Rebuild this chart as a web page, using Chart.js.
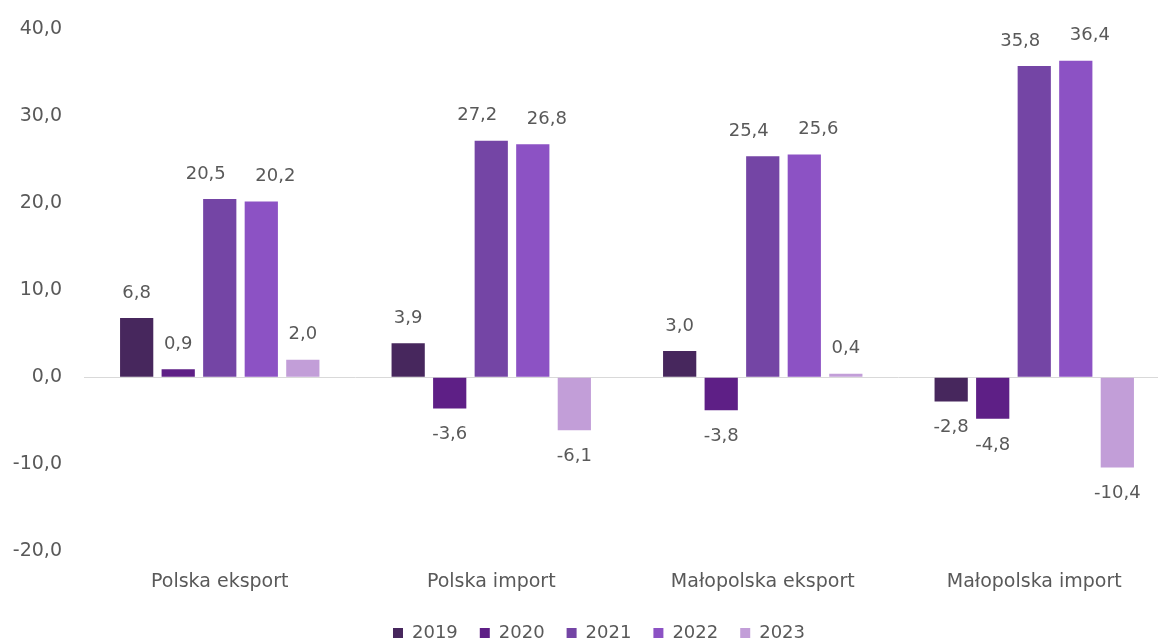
<!DOCTYPE html>
<html lang="pl">
<head>
<meta charset="UTF-8">
<title>Eksport i import</title>
<script src="https://cdn.jsdelivr.net/npm/chart.js"></script>
<style>
  html, body { margin: 0; padding: 0; background: #fff; overflow: hidden; }
  #wrap { position: absolute; left: 0; top: -4px; width: 1170px; height: 647px; }
</style>
</head>
<body>
<div id="wrap"><canvas id="myChart"></canvas></div>
<script>
// dane
const categories = ['Polska eksport', 'Polska import', 'Małopolska eksport', 'Małopolska import'];
const years = ['2019', '2020', '2021', '2022', '2023'];
const colors = ['#47275D', '#5E1F86', '#7445A5', '#8C52C4', '#C29ED8'];

const values2019 = [6.8, 3.9, 3.0, -2.8];
const values2020 = [0.9, -3.6, -3.8, -4.8];
const values2021 = [20.5, 27.2, 25.4, 35.8];
const values2022 = [20.2, 26.8, 25.6, 36.4];
const values2023 = [2.0, -6.1, 0.4, -10.4];

const series = [values2019, values2020, values2021, values2022, values2023];

const textColor = '#595959';
const fontFamily = '"DejaVu Sans", sans-serif';
const fontSize = 18;
const axisFontSize = 19;

// etykiety 2021 i 2022 są rozsunięte, żeby się nie nakładały
const labelShiftX = [0, 0, -14, 14, 0];

function fmt(v) {
    return v.toFixed(1).replace('.', ',');
}

// etykiety wartości nad / pod słupkami
const valueLabels = {
    id: 'valueLabels',
    afterDatasetsDraw(chart) {
        const ctx = chart.ctx;
        ctx.save();
        ctx.font = fontSize + 'px ' + fontFamily;
        ctx.fillStyle = textColor;
        ctx.textAlign = 'center';
        ctx.textBaseline = 'middle';
        chart.data.datasets.forEach((ds, i) => {
            const meta = chart.getDatasetMeta(i);
            meta.data.forEach((bar, j) => {
                const v = ds.data[j];
                const y = v >= 0 ? bar.y - 25 : bar.y + 26;
                ctx.fillText(fmt(v), bar.x + labelShiftX[i], y);
            });
        });
        ctx.restore();
    }
};

// przesunięcie legendy
const legendShift = {
    id: 'legendShift',
    afterLayout(chart) {
        const lg = chart.legend;
        if (lg) {
            lg.top += 9;
            lg.bottom += 9;
            lg.left += 14;
            lg.right += 14;
        }
    }
};

const datasets = years.map((y, i) => ({
    label: y,
    data: series[i],
    backgroundColor: colors[i],
    borderWidth: 0,
    barPercentage: 0.8,
    categoryPercentage: 0.765
}));

new Chart(document.getElementById('myChart'), {
    type: 'bar',
    data: { labels: categories, datasets: datasets },
    plugins: [valueLabels, legendShift],
    options: {
        responsive: true,
        maintainAspectRatio: false,
        animation: false,
        layout: { padding: { top: 20, right: 0, bottom: 0, left: 0 } },
        plugins: {
            tooltip: { enabled: false },
            legend: {
                position: 'bottom',
                labels: {
                    boxWidth: 10,
                    boxHeight: 10,
                    padding: 22,
                    color: textColor,
                    font: { size: fontSize, family: fontFamily }
                }
            }
        },
        scales: {
            x: {
                grid: { display: false },
                border: { display: false },
                ticks: {
                    color: textColor,
                    padding: 12,
                    font: { size: axisFontSize, family: fontFamily }
                },
                afterFit(scale) { scale.height = 42; }
            },
            y: {
                min: -20,
                max: 40,
                border: { display: false },
                grid: {
                    drawTicks: false,
                    lineWidth: 1,
                    color: c => c.tick && c.tick.value === 0 ? '#D9D9D9' : 'rgba(0,0,0,0)'
                },
                ticks: {
                    stepSize: 10,
                    padding: 22,
                    color: textColor,
                    font: { size: axisFontSize, family: fontFamily },
                    callback: v => fmt(v)
                },
                afterFit(scale) { scale.width = 84; }
            }
        }
    }
});
</script>
</body>
</html>
